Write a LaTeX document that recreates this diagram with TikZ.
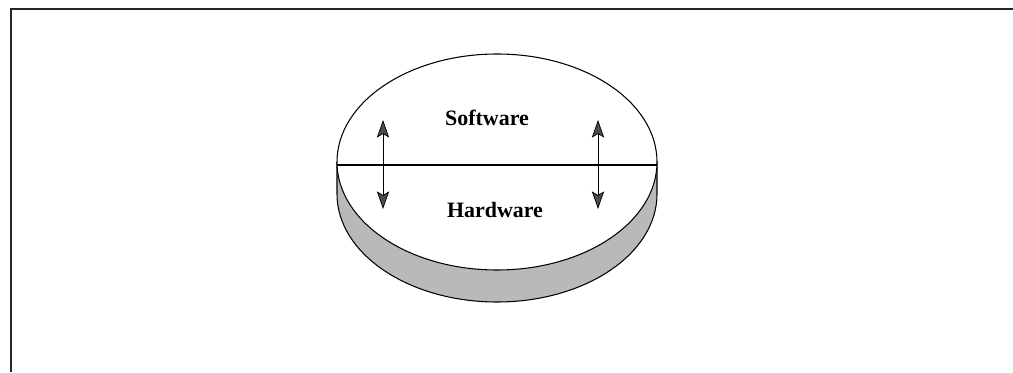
\documentclass[tikz,border=0pt]{standalone}
\usepackage{fontspec}
\setmainfont{Liberation Serif}
\usetikzlibrary{arrows.meta}

\begin{document}
\begin{tikzpicture}[x=0.02cm,y=0.02cm,every node/.style={black,font=\bfseries\fontsize{12.5}{14}\selectfont}]
	\useasboundingbox (0,0) rectangle (1013,372);
	\coordinate (TL) at (11,0);
	\coordinate (C) at (11,363);
	\coordinate (TR) at (1013,363);
	\coordinate (O) at (497,210);
	\coordinate (A) at (337,210);
	\coordinate (A') at (337,178);
	\coordinate (B) at (657,210);
	\coordinate (L) at (337,207);
	\coordinate (R) at (657,207);

	% frame
	\draw[line width=1.6pt,black!85] (TL) -- (C) -- (TR);

	% side of the disc
	\fill[gray!55] (A) -- (A') arc (180:360:160 and 108) -- (B)
		arc (0:-180:160 and 108) -- cycle;
	\draw[semithick] (A) -- (A') arc (180:360:160 and 108) -- (B);
	\draw[semithick,fill=white] (O) ellipse (160 and 108);
	\draw[semithick] (L) -- (R);

	\node at (487,254) {Software};
	\node at (495,162) {Hardware};

	\begin{scope}[{Stealth[length=10pt,width=7pt,inset=2pt,fill=gray!60!black]}-{Stealth[length=10pt,width=7pt,inset=2pt,fill=gray!60!black]}]
		\draw (383,252) -- (383,163);
		\draw (598,252) -- (598,163);
	\end{scope}
\end{tikzpicture}
\end{document}
